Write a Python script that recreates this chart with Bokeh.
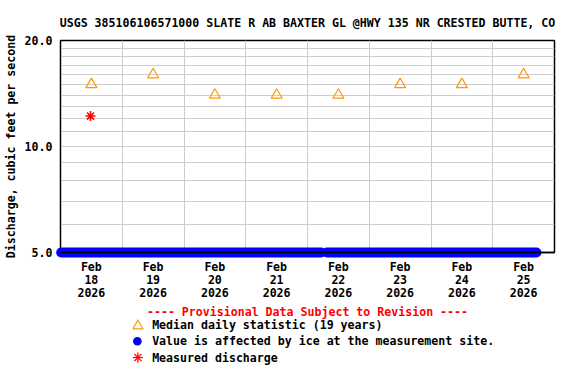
from datetime import datetime
from bokeh.plotting import figure
from bokeh.models import (Range1d, FixedTicker, PrintfTickFormatter, DatetimeTickFormatter)
from bokeh.core.properties import value
from bokeh.embed import file_html
from bokeh.resources import INLINE

# ---------------- data ----------------
title = "USGS 385106106571000 SLATE R AB BAXTER GL @HWY 135 NR CRESTED BUTTE, CO"
days = ["2026-02-18", "2026-02-19", "2026-02-20", "2026-02-21",
        "2026-02-22", "2026-02-23", "2026-02-24", "2026-02-25"]
range_end_day = "2026-02-26"
median_cfs = [15, 16, 14, 14, 14, 15, 15, 16]          # median daily statistic (19 years)
measured_time = ["2026-02-18 11:40"]
measured_cfs = [12.2]
# ice-affected record, plotted on the axis floor, as (start, end) runs
ice_start = ["2026-02-18 00:15", "2026-02-22 07:30"]
ice_end = ["2026-02-22 05:15", "2026-02-25 17:00"]
ice_cfs = 5.0
y_major = [5, 10, 20]
y_minor = [6, 7, 8, 9, 11, 12, 13, 14, 15, 16, 17, 18, 19]
legend_labels = ["Median daily statistic (19 years)",
                 "Value is affected by ice at the measurement site.",
                 "Measured discharge"]
provisional = "---- Provisional Data Subject to Revision ----"
y_label = "Discharge, cubic feet per second"

FONT = "DejaVu Sans Mono"
FS = "11.6px"
ORANGE = "#FF9900"
BLUE = "#0000FF"
RED = "#FF0000"

# frame geometry (pixels)
W, H = 576, 384
FL, FR, FT, FB = 58, 554, 40, 252

def ms(s):
    fmt = "%Y-%m-%d %H:%M" if " " in s else "%Y-%m-%d"
    return (datetime.strptime(s, fmt) - datetime(1970, 1, 1)).total_seconds() * 1000.0

day_ms = [ms(d) for d in days]
noon_ms = [d + 12 * 3600 * 1000 for d in day_ms]
grid_ms = day_ms + [ms(range_end_day)]
x0, x1 = day_ms[0], ms(range_end_day)
y0, y1 = y_major[0], y_major[-1]

# helpers to place legend items (outside the frame) at pixel positions
def px_x(px):
    return x0 + (px - FL) / (FR - FL) * (x1 - x0)

def px_y(py):
    return y0 * (y1 / y0) ** ((FB - py) / (FB - FT))

p = figure(width=W, height=H, x_axis_type="datetime", y_axis_type="log",
           x_range=Range1d(x0, x1), y_range=Range1d(y0, y1),
           output_backend="svg", toolbar_location=None,
           min_border_left=FL, min_border_right=W - FR, min_border_top=FT,
           min_border_bottom=H - FB)

p.title.text = title
p.title.align = "center"
p.title.text_font = FONT
p.title.text_font_size = FS
p.title.text_font_style = "bold"
p.title.text_color = "black"
p.title.standoff = 22

p.outline_line_color = "black"
p.outline_line_width = 1.5
p.outline_line_alpha = 1

p.xaxis.ticker = FixedTicker(ticks=noon_ms)
fmt = "%b\n%d\n%Y"
p.xaxis.formatter = DatetimeTickFormatter(microseconds=fmt, milliseconds=fmt, seconds=fmt,
                                          minsec=fmt, minutes=fmt, hourmin=fmt, hours=fmt,
                                          days=fmt, months=fmt, years=fmt)
p.yaxis.ticker = FixedTicker(ticks=y_major, minor_ticks=y_minor)
p.yaxis.formatter = PrintfTickFormatter(format="%.1f")
for ax in (p.xaxis[0], p.yaxis[0]):
    ax.major_tick_in = 0
    ax.major_tick_out = 0
    ax.minor_tick_in = 0
    ax.minor_tick_out = 0
    ax.axis_line_color = "black"
    ax.major_label_text_font = FONT
    ax.major_label_text_font_size = FS
    ax.major_label_text_font_style = "bold"
    ax.major_label_text_color = "black"
p.xaxis.major_label_standoff = 7
p.xaxis.major_label_text_line_height = 0.93
p.yaxis.major_label_standoff = 8
p.yaxis.axis_label = y_label
p.yaxis.axis_label_text_font = FONT
p.yaxis.axis_label_text_font_size = FS
p.yaxis.axis_label_text_font_style = "bold"
p.yaxis.axis_label_text_color = "black"
p.yaxis.axis_label_standoff = 4

p.xgrid.ticker = FixedTicker(ticks=grid_ms)
p.xgrid.grid_line_color = "#CCCCCC"
p.ygrid.grid_line_color = "#CCCCCC"
p.ygrid.minor_grid_line_color = "#CCCCCC"

# ---------------- data glyphs ----------------
p.scatter(noon_ms, median_cfs, marker="triangle", size=11,
          fill_color=None, line_color=ORANGE, line_width=1.2)
p.scatter([ms(t) for t in measured_time], measured_cfs, marker="asterisk", size=10,
          line_color=RED, line_width=1.5)
for s, e in zip(ice_start, ice_end):
    p.line([ms(s), ms(e)], [ice_cfs, ice_cfs], line_color=BLUE, line_width=10,
           line_cap="round", level="annotation")
# x axis baseline over the ice band
p.line([x0, x1], [y0, y0], line_color="black", line_width=1.5, level="annotation")

# ---------------- legend below the chart (drawn in pixel layout positions) ----------------
p.text(x=[px_x((FL + FR) / 2)], y=[px_y(311)], text=[provisional], text_align="center",
       text_baseline="middle", text_font=value(FONT), text_font_size=FS,
       text_font_style="bold", text_color=RED, level="annotation")
row_py = [324, 340.8, 357]
mpx = 135.7
# triangle symbol
cx, cy = mpx, row_py[0]
p.line([px_x(cx - 5), px_x(cx), px_x(cx + 5), px_x(cx - 5)],
       [px_y(cy + 4.3), px_y(cy - 4.3), px_y(cy + 4.3), px_y(cy + 4.3)],
       line_color=ORANGE, line_width=1.2, line_join="miter", level="annotation")
# filled dot symbol
cx, cy = mpx - 0.5, row_py[1]
p.line([px_x(cx - 0.05), px_x(cx + 0.05)], [px_y(cy), px_y(cy)],
       line_color=BLUE, line_width=8.5, line_cap="round", level="annotation")
# asterisk symbol
cx, cy = mpx, row_py[2]
for dx, dy in [(5, 0), (0, 5), (3.6, 3.6), (3.6, -3.6)]:
    p.line([px_x(cx - dx), px_x(cx + dx)], [px_y(cy - dy), px_y(cy + dy)],
           line_color=RED, line_width=1.3, level="annotation")
p.text(x=[px_x(150)] * len(legend_labels), y=[px_y(v) for v in row_py], text=legend_labels,
       text_align="left", text_baseline="middle", text_font=value(FONT), text_font_size=FS,
       text_font_style="bold", text_color="black", level="annotation")

open("out.html", "w").write(file_html(p, INLINE))
